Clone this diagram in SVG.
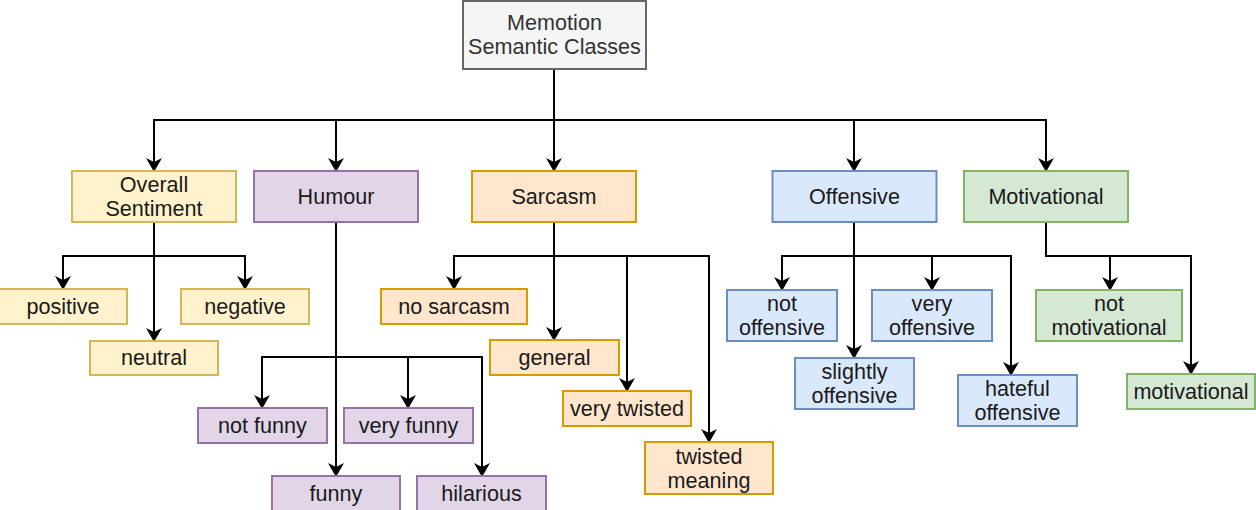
<svg xmlns="http://www.w3.org/2000/svg" width="1256" height="510" viewBox="0 0 1256 510">
<style>
text{font-family:"Liberation Sans",Arial,Helvetica,sans-serif;font-size:21.6px;fill:#1a1a1a;text-anchor:middle}
rect{stroke-width:2}
.gray rect{fill:#f5f5f5;stroke:#666666}
.gray text{fill:#333333}
.yel rect{fill:#fff2cc;stroke:#d6b656}
.pur rect{fill:#e1d5e7;stroke:#9673a6}
.ora rect{fill:#ffe6cc;stroke:#d79b00}
.blu rect{fill:#dae8fc;stroke:#6c8ebf}
.grn rect{fill:#d5e8d4;stroke:#82b366}
#connectors path{fill:none;stroke:#000;stroke-width:2;marker-end:url(#arr)}
</style>
<defs>
<marker id="arr" markerUnits="userSpaceOnUse" viewBox="0 0 14 16" markerWidth="14" markerHeight="16" refX="13" refY="8" orient="auto">
<path d="M0,0 L14,8 L0,16 L4,8 Z" fill="#000"/>
</marker>
</defs>
<rect width="1256" height="510" fill="#ffffff"/>
<g id="connectors">
<path d="M554,69 V120 H154 V171"/>
<path d="M554,69 V120 H336 V171"/>
<path d="M554,69 V171"/>
<path d="M554,69 V120 H854 V171"/>
<path d="M554,69 V120 H1046 V171"/>
<path d="M154,222 V256 H63 V289"/>
<path d="M154,222 V341"/>
<path d="M154,222 V256 H245 V289"/>
<path d="M336,222 V357 H262 V408"/>
<path d="M336,222 V357 H408 V408"/>
<path d="M336,222 V476"/>
<path d="M336,222 V357 H482 V476"/>
<path d="M554,222 V256 H454 V289"/>
<path d="M554,222 V340"/>
<path d="M554,222 V256 H627 V391"/>
<path d="M554,222 V256 H709 V442"/>
<path d="M854,222 V256 H782 V290"/>
<path d="M854,222 V256 H932 V290"/>
<path d="M854,222 V358"/>
<path d="M854,222 V256 H1011 V375"/>
<path d="M1046,222 V256 H1110 V290"/>
<path d="M1046,222 V256 H1191 V374"/>
</g>
<g id="root" class="gray"><rect x="463" y="1" width="183" height="68"/><text x="554.5" y="30">Memotion</text><text x="554.5" y="54">Semantic Classes</text></g>
<g id="overall-sentiment" class="yel"><rect x="72" y="171" width="164" height="51"/><text x="154" y="192">Overall</text><text x="154" y="216">Sentiment</text></g>
<g id="humour" class="pur"><rect x="254" y="171" width="164" height="51"/><text x="336" y="204">Humour</text></g>
<g id="sarcasm" class="ora"><rect x="472" y="171" width="164" height="51"/><text x="554" y="204">Sarcasm</text></g>
<g id="offensive" class="blu"><rect x="772.5" y="171" width="164" height="51"/><text x="854.5" y="204">Offensive</text></g>
<g id="motivational" class="grn"><rect x="964" y="171" width="164" height="51"/><text x="1046" y="204">Motivational</text></g>
<g id="positive" class="yel"><rect x="-1" y="289" width="128" height="35"/><text x="63" y="314">positive</text></g>
<g id="negative" class="yel"><rect x="181" y="289" width="128" height="35"/><text x="245" y="314">negative</text></g>
<g id="neutral" class="yel"><rect x="90" y="341" width="128" height="34"/><text x="154" y="365">neutral</text></g>
<g id="not-funny" class="pur"><rect x="198" y="408" width="129" height="35"/><text x="262.5" y="433">not funny</text></g>
<g id="very-funny" class="pur"><rect x="344" y="408" width="129" height="35"/><text x="408.5" y="433">very funny</text></g>
<g id="funny" class="pur"><rect x="272" y="476" width="128" height="35"/><text x="336" y="501">funny</text></g>
<g id="hilarious" class="pur"><rect x="417" y="476" width="129" height="35"/><text x="481.5" y="501">hilarious</text></g>
<g id="no-sarcasm" class="ora"><rect x="381" y="289" width="146" height="35"/><text x="454" y="314">no sarcasm</text></g>
<g id="general" class="ora"><rect x="490" y="340" width="129" height="35"/><text x="554.5" y="365">general</text></g>
<g id="very-twisted" class="ora"><rect x="563" y="391" width="128" height="35"/><text x="627" y="416">very twisted</text></g>
<g id="twisted-meaning" class="ora"><rect x="645" y="442" width="128" height="52"/><text x="709" y="464">twisted</text><text x="709" y="488">meaning</text></g>
<g id="not-offensive" class="blu"><rect x="727" y="290" width="110" height="51"/><text x="782" y="311">not</text><text x="782" y="335">offensive</text></g>
<g id="very-offensive" class="blu"><rect x="872" y="290" width="120" height="51"/><text x="932" y="311">very</text><text x="932" y="335">offensive</text></g>
<g id="slightly-offensive" class="blu"><rect x="795" y="358" width="119" height="51"/><text x="854.5" y="379">slightly</text><text x="854.5" y="403">offensive</text></g>
<g id="hateful-offensive" class="blu"><rect x="958" y="375" width="119" height="51"/><text x="1017.5" y="396">hateful</text><text x="1017.5" y="420">offensive</text></g>
<g id="not-motivational" class="grn"><rect x="1036" y="290" width="146" height="51"/><text x="1109" y="311">not</text><text x="1109" y="335">motivational</text></g>
<g id="motivational-leaf" class="grn"><rect x="1127" y="374" width="128" height="35"/><text x="1191" y="399">motivational</text></g>
</svg>
